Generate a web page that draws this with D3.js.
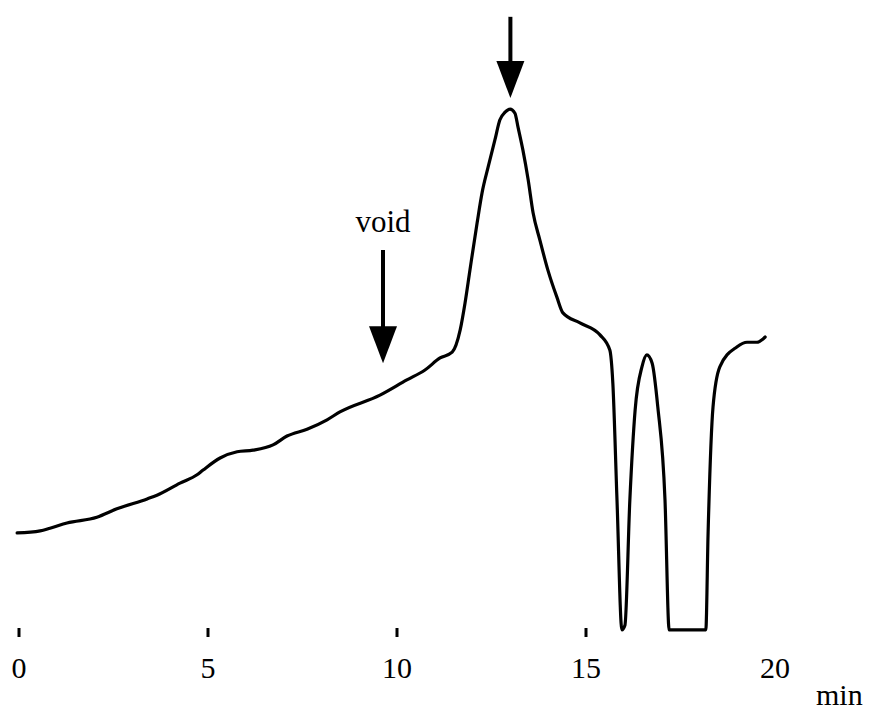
<!DOCTYPE html>
<html>
<head>
<meta charset="utf-8">
<script src="https://cdn.jsdelivr.net/npm/d3@7"></script>
<style>
  html, body { margin: 0; padding: 0; background: #fff; }
  svg { display: block; }
  text { font-family: "Liberation Serif", "Times New Roman", serif; fill: #000; }
</style>
</head>
<body>
<svg id="chart" width="872" height="711"></svg>
<script>
// Elution time (min) and detector signal (arbitrary units)
const times = [-0.05, 0.56, 0.82, 1.27, 2.06, 2.59, 3.39, 3.65, 4.26, 4.71, 4.87,
  5.32, 5.77, 6.19, 6.72, 7.09, 7.62, 8.15, 8.49, 9.55, 10.26, 10.74, 11.14,
  11.46, 11.67, 11.80, 11.93, 12.12, 12.25, 12.41, 12.59, 12.72, 12.86, 12.99,
  13.12, 13.20, 13.33, 13.47, 13.60, 13.78, 13.99, 14.23, 14.39,
  14.84, 15.37, 15.63, 15.71, 15.82, 15.95, 16.03, 16.16, 16.30, 16.48,
  16.61, 16.75, 16.90, 17.09, 17.20, 18.17, 18.23, 18.36, 18.54, 18.99, 19.26,
  19.52, 19.74];
const signal = [18.9, 19.3, 19.8, 20.8, 21.9, 23.5, 25.4, 26.1, 28.4, 30.0, 30.9,
  33.2, 34.4, 34.7, 35.7, 37.4, 38.7, 40.5, 42.0, 45.2, 48.1, 50.0, 52.3,
  53.4, 57.6, 62.8, 69.1, 78.1, 83.8, 88.7, 93.9, 97.7, 99.2, 99.8,
  99.0, 96.4, 92.0, 86.3, 80.0, 74.8, 69.1, 63.9, 60.9,
  59.0, 56.7, 53.8, 47.5, 25.2, 0.4, 1.3, 25.2, 42.4, 50.6,
  52.9, 51.3, 42.9, 25.2, 0.4, 0.4, 18.9, 42.9, 50.6, 54.4, 55.3,
  55.3, 56.3];

// Axis ticks
const tickValues = [0, 5, 10, 15, 20];
const tickLabels = ["0", "5", "10", "15", "20"];
const axisUnit = "min";

// Annotation arrows: position (min), shaft top and tip (signal units)
const arrowLabels = ["void", ""];
const arrowTimes = [9.63, 13.0];
const arrowTops = [72.9, 117.4];
const arrowTips = [51.3, 101.9];

const svg = d3.select("#chart");
const x = d3.scaleLinear().domain([0, 20]).range([19, 775]);
const y = d3.scaleLinear().domain([0, 100]).range([632, 108]);

const pts = times.map((t, i) => ({ t, v: signal[i] }));

// Chromatogram trace
svg.append("path")
  .datum(pts)
  .attr("fill", "none")
  .attr("stroke", "#000")
  .attr("stroke-width", 3.2)
  .attr("stroke-linejoin", "round")
  .attr("stroke-linecap", "round")
  .attr("d", d3.line().x(d => x(d.t)).y(d => y(d.v)).curve(d3.curveMonotoneX));

// Time axis: short tick marks with labels, no axis line
const axisY = 628;
const ticks = svg.append("g");
ticks.selectAll("line")
  .data(tickValues.slice(0, 4))
  .join("line")
  .attr("x1", d => x(d)).attr("x2", d => x(d))
  .attr("y1", axisY).attr("y2", axisY + 9)
  .attr("stroke", "#000")
  .attr("stroke-width", 3);
ticks.selectAll("text")
  .data(tickValues)
  .join("text")
  .attr("x", d => x(d))
  .attr("y", 678)
  .attr("text-anchor", "middle")
  .attr("font-size", 30)
  .text((d, i) => tickLabels[i]);
svg.append("text")
  .attr("x", 816)
  .attr("y", 705)
  .attr("font-size", 30)
  .text(axisUnit);

// Arrows
const headLen = 37, headW = 28;
arrowTimes.forEach((t, i) => {
  const ax = x(t), yTop = y(arrowTops[i]), yTip = y(arrowTips[i]);
  const g = svg.append("g");
  g.append("line")
    .attr("x1", ax).attr("x2", ax)
    .attr("y1", yTop).attr("y2", yTip - headLen + 2)
    .attr("stroke", "#000")
    .attr("stroke-width", 4);
  g.append("path")
    .attr("d", `M${ax - headW / 2},${yTip - headLen} L${ax + headW / 2},${yTip - headLen} L${ax},${yTip} Z`)
    .attr("fill", "#000");
  if (arrowLabels[i]) {
    g.append("text")
      .attr("x", ax)
      .attr("y", yTop - 18)
      .attr("text-anchor", "middle")
      .attr("font-size", 31)
      .text(arrowLabels[i]);
  }
});
</script>
</body>
</html>
